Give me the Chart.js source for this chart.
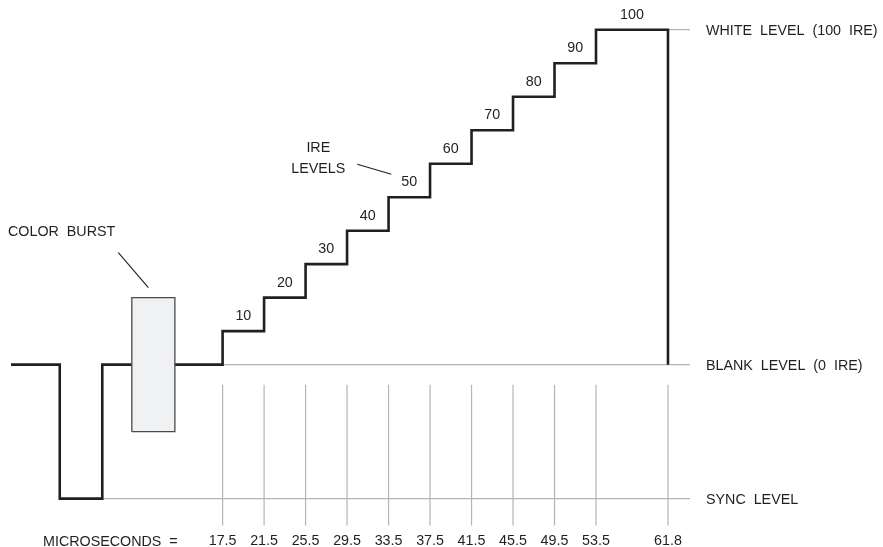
<!DOCTYPE html>
<html>
<head>
<meta charset="utf-8">
<script src="https://cdn.jsdelivr.net/npm/chart.js@4"></script>
<style>
  html, body { margin: 0; padding: 0; background: #fff; }
  #wrap { width: 883px; height: 547px; }
</style>
</head>
<body>
<div id="wrap"><canvas id="waveChart"></canvas></div>
<script>
// time marks along the bottom (microseconds)
const microseconds = [17.5, 21.5, 25.5, 29.5, 33.5, 37.5, 41.5, 45.5, 49.5, 53.5, 61.8];
// IRE value of each staircase step, step i starts at microseconds[i]
const ireSteps = [10, 20, 30, 40, 50, 60, 70, 80, 90, 100];
// reference levels on the right
const levelNames = ["WHITE  LEVEL  (100  IRE)", "BLANK  LEVEL  (0  IRE)", "SYNC  LEVEL"];
const levelIre = [100, 0, -40];
// sync pulse and colour burst
const lineStartUs = -2.9;
const syncUs = [1.8, 5.9];
const syncIre = -40;
const burstUs = [8.75, 12.9];
const burstIre = [-20, 20];
// tick guide lines below blank level
const guideIre = [-6, -48];

// the drawing squeezes the last interval (53.5 -> 61.8) a bit
const tailFrom = 53.5;
const tailScale = 0.836;
const xMin = -2.9;
const xMax = 64.34;

function squeeze(v) {
  return v > tailFrom ? tailFrom + (v - tailFrom) * tailScale : v;
}
function unsqueeze(v) {
  return v > tailFrom ? tailFrom + (v - tailFrom) / tailScale : v;
}

class SchematicScale extends Chart.LinearScale {
  static id = "schematic";
  static defaults = Chart.LinearScale.defaults;
  getPixelForValue(v) {
    if (v === null || v === undefined || isNaN(v)) return NaN;
    const a = squeeze(this.min), b = squeeze(this.max);
    return this.getPixelForDecimal((squeeze(v) - a) / (b - a));
  }
  getValueForPixel(p) {
    const a = squeeze(this.min), b = squeeze(this.max);
    return unsqueeze(a + this.getDecimalForPixel(p) * (b - a));
  }
}
Chart.register(SchematicScale);

const ink = "#231f20";
const gray = "#b5b5b5";
const fontFamily = '"Liberation Sans", Arial, Helvetica, sans-serif';
const fontSize = 14.3;
Chart.defaults.font.family = fontFamily;

// waveform: blank -> sync -> blank -> staircase -> back to blank
const wavePoints = [
  { x: lineStartUs, y: 0 },
  { x: syncUs[0], y: syncIre },
  { x: syncUs[1], y: 0 }
];
ireSteps.forEach((v, i) => wavePoints.push({ x: microseconds[i], y: v }));
wavePoints.push({ x: microseconds[microseconds.length - 1], y: 0 });

const burstPoints = [
  { x: burstUs[0], y: burstIre[0] },
  { x: burstUs[0], y: burstIre[1] },
  { x: burstUs[1], y: burstIre[1] },
  { x: burstUs[1], y: burstIre[0] },
  { x: burstUs[0], y: burstIre[0] }
];

// gray reference lines to the right edge
const levelStarts = [microseconds[microseconds.length - 1], microseconds[0], syncUs[1]];
const levelPoints = [];
levelIre.forEach((lv, i) => {
  levelPoints.push({ x: levelStarts[i], y: lv }, { x: xMax, y: lv }, { x: xMax, y: null });
});

const guidePoints = [];
microseconds.forEach(t => {
  guidePoints.push({ x: t, y: guideIre[0] }, { x: t, y: guideIre[1] }, { x: t, y: null });
});

const textPlugin = {
  id: "waveText",
  afterDraw(chart) {
    const { ctx, chartArea } = chart;
    const x = chart.scales.x, y = chart.scales.y;
    ctx.save();
    ctx.font = fontSize + "px " + fontFamily;
    ctx.fillStyle = ink;
    ctx.strokeStyle = ink;
    ctx.textBaseline = "middle";

    // step values
    ctx.textAlign = "center";
    ireSteps.forEach((v, i) => {
      const xm = (x.getPixelForValue(microseconds[i]) + x.getPixelForValue(microseconds[i + 1])) / 2;
      ctx.fillText(String(v), xm, y.getPixelForValue(v) - 15);
    });

    // level names
    ctx.textAlign = "left";
    levelNames.forEach((name, i) => {
      ctx.fillText(name, chartArea.right + 16, y.getPixelForValue(levelIre[i]) + 1.5);
    });

    ctx.fillText("MICROSECONDS  =", 43, chartArea.bottom + 16.5);

    // colour burst label + leader
    const bx = (x.getPixelForValue(burstUs[0]) + x.getPixelForValue(burstUs[1])) / 2;
    const by = y.getPixelForValue(burstIre[1]);
    ctx.fillText("COLOR  BURST", 8, by - 66);
    ctx.lineWidth = 1.1;
    ctx.beginPath();
    ctx.moveTo(bx - 35, by - 45);
    ctx.lineTo(bx - 5, by - 10);
    ctx.stroke();

    // IRE levels label + leader
    const lx = (x.getPixelForValue(microseconds[4]) + x.getPixelForValue(microseconds[5])) / 2;
    const ly = y.getPixelForValue(ireSteps[4]) - 15;
    ctx.beginPath();
    ctx.moveTo(lx - 52, ly - 18);
    ctx.lineTo(lx - 18, ly - 8);
    ctx.stroke();
    ctx.textAlign = "center";
    ctx.fillText("IRE", lx - 91, ly - 34);
    ctx.fillText("LEVELS", lx - 91, ly - 13);
    ctx.restore();
  }
};

new Chart(document.querySelector("#waveChart"), {
  type: "line",
  data: {
    datasets: [
      {
        label: "Color burst",
        data: burstPoints,
        order: 0,
        borderColor: "#4a4a4a",
        borderWidth: 1.3,
        backgroundColor: "#f0f1f3",
        fill: "shape",
        pointRadius: 0,
        tension: 0,
        clip: false
      },
      {
        label: "Waveform",
        data: wavePoints,
        order: 1,
        stepped: "before",
        borderColor: ink,
        borderWidth: 2.6,
        borderJoinStyle: "miter",
        fill: false,
        pointRadius: 0,
        clip: false
      },
      {
        label: "Levels",
        data: levelPoints,
        order: 2,
        borderColor: gray,
        borderWidth: 1.2,
        spanGaps: false,
        fill: false,
        pointRadius: 0,
        clip: false
      },
      {
        label: "Guides",
        data: guidePoints,
        order: 3,
        borderColor: gray,
        borderWidth: 1.2,
        spanGaps: false,
        fill: false,
        pointRadius: 0,
        clip: false
      }
    ]
  },
  options: {
    responsive: true,
    maintainAspectRatio: false,
    animation: false,
    events: [],
    layout: { padding: { left: 11, right: 193, top: 23, bottom: -9.6 } },
    plugins: {
      legend: { display: false },
      tooltip: { enabled: false }
    },
    scales: {
      x: {
        type: "schematic",
        min: xMin,
        max: xMax,
        bounds: "data",
        grid: { display: false, drawTicks: false },
        border: { display: false },
        afterBuildTicks: axis => {
          axis.ticks = microseconds.map(v => ({ value: v }));
        },
        ticks: {
          padding: 7,
          autoSkip: false,
          maxRotation: 0,
          color: ink,
          font: { size: fontSize },
          callback: v => v.toFixed(1)
        }
      },
      y: {
        display: false,
        min: -48,
        max: 102
      }
    }
  },
  plugins: [textPlugin]
});
</script>
</body>
</html>
